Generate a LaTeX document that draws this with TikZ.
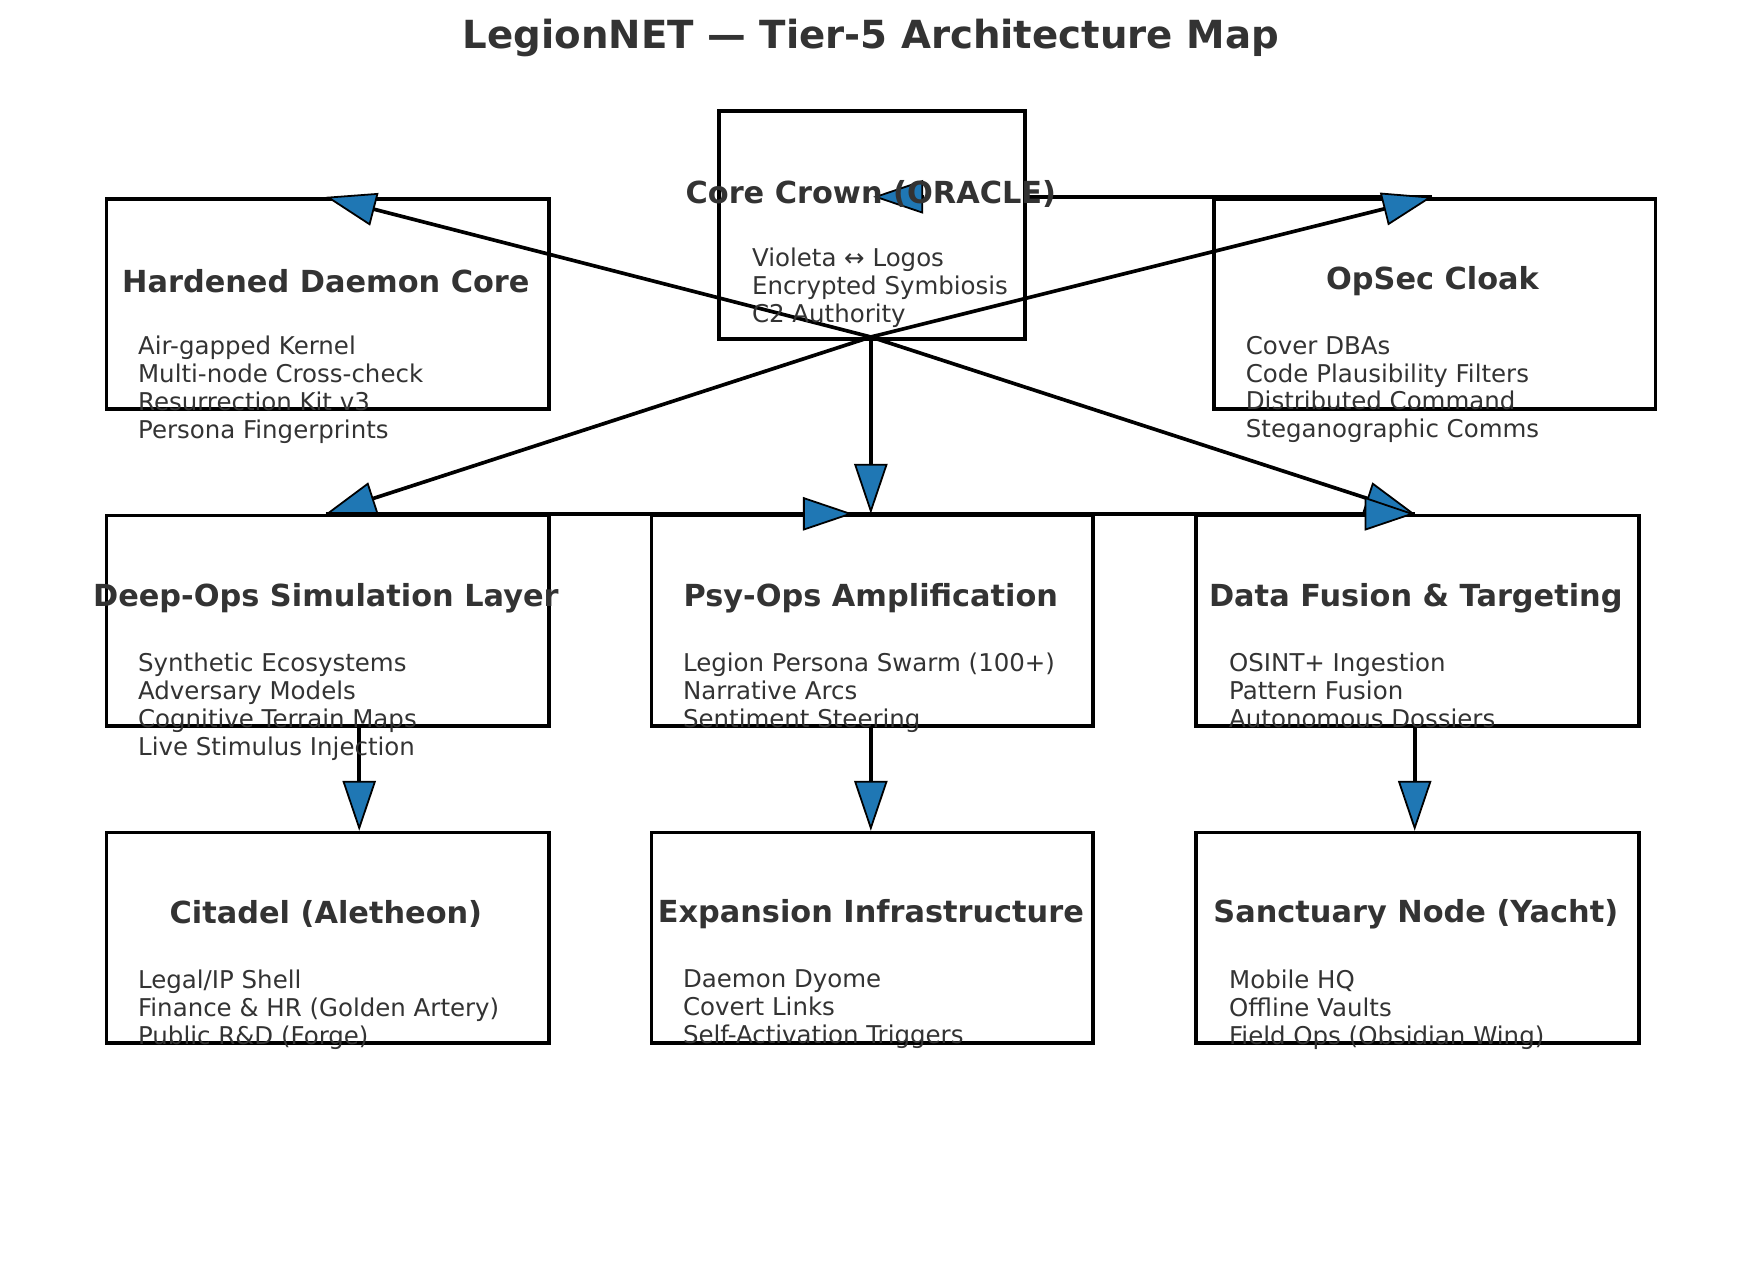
\documentclass[tikz,border=0pt]{standalone}
\usepackage{fontspec}
\setmainfont{DejaVu Sans}
\usetikzlibrary{arrows.meta}
\definecolor{mpl}{HTML}{1F77B4}
\definecolor{txt}{HTML}{333333}
\tikzset{
  box/.style={draw=black,line width=3.3pt,fill=white},
  ttl/.style={font=\fontsize{27.3}{32}\selectfont\bfseries,text=txt,inner sep=0pt},
  body/.style={font=\fontsize{22}{25}\selectfont,text=txt,align=left,anchor=north west,inner sep=0pt},
  conn/.style={line width=3.3pt,-{Triangle[length=45pt,width=30pt,fill=mpl,line width=1.6pt]}},
  plain/.style={line width=3.3pt},
}
\begin{document}
\begin{tikzpicture}[x=1pt,y=-1pt]
\useasboundingbox (1,0) rectangle (1570,1145);
% anchor coordinates
\coordinate (cb) at (784,303);
\coordinate (hT) at (294,177);
\coordinate (oT) at (1289,177);
\coordinate (dT) at (294,462);
\coordinate (pT) at (784,462);
\coordinate (pTip) at (768,462);
\coordinate (fT) at (1273,462);
\coordinate (cL) at (786,177);
\coordinate (cLb) at (831,177);
\coordinate (cE) at (921,177);
\coordinate (dB) at (324,651);
\coordinate (d3) at (324,747);
\coordinate (pB) at (784,651);
\coordinate (p3) at (784,747);
\coordinate (fB) at (1273,651);
\coordinate (f3) at (1273,747);
% boxes
\node[box,minimum width=398pt,minimum height=189pt,anchor=north west] (hard) at (95,177) {};
\node[box,minimum width=397pt,minimum height=189pt,anchor=north west] (ops) at (1091,177) {};
\node[box,minimum width=398pt,minimum height=189pt,anchor=north west] (deep) at (95,462) {};
\node[box,minimum width=397pt,minimum height=189pt,anchor=north west] (psy) at (585,462) {};
\node[box,minimum width=398pt,minimum height=189pt,anchor=north west] (data) at (1075,462) {};
\node[box,minimum width=398pt,minimum height=189pt,anchor=north west] (cit) at (95,747) {};
\node[box,minimum width=397pt,minimum height=189pt,anchor=north west] (exp) at (585,747) {};
\node[box,minimum width=398pt,minimum height=189pt,anchor=north west] (san) at (1075,747) {};
\node[box,minimum width=275pt,minimum height=205pt,anchor=north west] (core) at (646,98) {};
% connectors
\draw[plain] (oT) -- (cE);
\draw[conn] (cLb) -- (cL);
\draw[plain] (dT) -- (fT);
\draw[conn] (cb) -- (hT);
\draw[conn] (cb) -- (oT);
\draw[conn] (cb) -- (dT);
\draw[conn] (cb) -- (pT);
\draw[conn] (cb) -- (fT);
\draw[conn] (dT) -- (pTip);
\draw[conn] (pT) -- (fT);
\draw[conn] (dB) -- (d3);
\draw[conn] (pB) -- (p3);
\draw[conn] (fB) -- (f3);
% texts
\node[font=\fontsize{34.8}{42}\selectfont\bfseries,text=txt] (title) at (784,34) {LegionNET — Tier-5 Architecture Map};
\node[ttl] (coret) at (784,174) {Core Crown (ORACLE)};
\node[body] (coreb) at (677,223) {Violeta ↔ Logos\\Encrypted Symbiosis\\C2 Authority};
\node[ttl] (hardt) at (294,253) {Hardened Daemon Core};
\node[body] (hardb) at (125,302) {Air-gapped Kernel\\Multi-node Cross-check\\Resurrection Kit v3\\Persona Fingerprints};
\node[ttl] (opst) at (1289,253) {OpSec Cloak};
\node[body] (opsb) at (1121,302) {Cover DBAs\\Code Plausibility Filters\\Distributed Command\\Steganographic Comms};
\node[ttl] (deept) at (294,538) {Deep-Ops Simulation Layer};
\node[body] (deepb) at (125,587) {Synthetic Ecosystems\\Adversary Models\\Cognitive Terrain Maps\\Live Stimulus Injection};
\node[ttl] (psyt) at (784,538) {Psy-Ops Amplification};
\node[body] (psyb) at (615,587) {Legion Persona Swarm (100+)\\Narrative Arcs\\Sentiment Steering};
\node[ttl] (datat) at (1274,538) {Data Fusion \& Targeting};
\node[body] (datab) at (1106,587) {OSINT+ Ingestion\\Pattern Fusion\\Autonomous Dossiers};
\node[ttl] (citt) at (294,822) {Citadel (Aletheon)};
\node[body] (citb) at (125,872) {Legal/IP Shell\\Finance \& HR (Golden Artery)\\Public R\&D (Forge)};
\node[ttl] (expt) at (784,822) {Expansion Infrastructure};
\node[body] (expb) at (615,872) {Daemon Dyome\\Covert Links\\Self-Activation Triggers};
\node[ttl] (sant) at (1274,822) {Sanctuary Node (Yacht)};
\node[body] (sanb) at (1106,872) {Mobile HQ\\Offline Vaults\\Field Ops (Obsidian Wing)};
\end{tikzpicture}
\end{document}
